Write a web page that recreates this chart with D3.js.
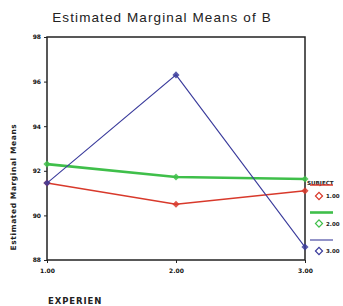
<!DOCTYPE html>
<html><head><meta charset="utf-8">
<script src="https://cdn.jsdelivr.net/npm/d3@7"></script>
<style>body{margin:0;background:#fff;overflow:hidden}svg{display:block}</style>
</head><body>
<svg id="c" width="343" height="306"></svg>
<script>
const categories = [1, 2, 3];
const xTickLabels = ["1.00", "2.00", "3.00"];
const yTicks = [88, 90, 92, 94, 96, 98];
const seriesNames = ["1.00", "2.00", "3.00"];
const series1 = [91.45, 90.5, 91.1];
const series2 = [92.3, 91.72, 91.63];
const series3 = [91.45, 96.3, 88.58];
const allSeries = [series1, series2, series3];
const colors = ["#d8392b", "#3fbf4a", "#3b3c9c"];
const widths = [1.5, 2.6, 1.1];

const svg = d3.select("#c");
const m = {l: 47, r: 305, t: 37, b: 260};
const x = d3.scaleLinear().domain([1, 3]).range([m.l, m.r]);
const y = d3.scaleLinear().domain([88, 98]).range([m.b, m.t]);

svg.append("text").attr("x", 162).attr("y", 22).attr("text-anchor", "middle")
  .attr("font-family", "Liberation Sans, Arial, sans-serif").attr("font-size", 13.5)
  .attr("letter-spacing", 1.1).attr("fill", "#222").text("Estimated Marginal Means of B");

// axes
const ya = svg.append("g").attr("transform", `translate(${m.l},0)`)
  .call(d3.axisLeft(y).tickValues(yTicks).tickSize(3).tickFormat(d3.format("d")));
const xa = svg.append("g").attr("transform", `translate(0,${m.b})`)
  .call(d3.axisBottom(x).tickValues(categories).tickSize(3).tickFormat((d,i)=>xTickLabels[i]));
[ya, xa].forEach(g => {
  g.select(".domain").remove();
  g.selectAll("line").attr("stroke", "#222");
  g.selectAll("text").attr("font-family", "DejaVu Sans, sans-serif").attr("font-weight", "bold")
    .attr("font-size", 6).attr("fill", "#111");
});
xa.selectAll("text").attr("dy", 7);

svg.append("rect").attr("x", m.l).attr("y", m.t).attr("width", m.r - m.l).attr("height", m.b - m.t)
  .attr("fill", "none").attr("stroke", "#222").attr("stroke-width", 1.5);

const line = d3.line().x((d,i)=>x(categories[i])).y(d=>y(d));
allSeries.forEach((s, k) => {
  svg.append("path").attr("d", line(s)).attr("fill", "none")
    .attr("stroke", colors[k]).attr("stroke-width", widths[k]);
  svg.selectAll(null).data(s).enter().append("path")
    .attr("transform", (d,i)=>`translate(${x(categories[i])},${y(d)}) rotate(45)`)
    .attr("d", "M-2.5,-2.5h5v5h-5z").attr("fill", colors[k]).attr("opacity", 0.85);
});

// y axis title
svg.append("text").attr("transform", "translate(16,187) rotate(-90)").attr("text-anchor", "middle")
  .attr("font-family", "DejaVu Sans, sans-serif").attr("font-weight", "bold").attr("font-size", 7.5)
  .attr("letter-spacing", 0.6).attr("fill", "#222").text("Estimated Marginal Means");

svg.append("text").attr("x", 48).attr("y", 304)
  .attr("font-family", "DejaVu Sans, sans-serif").attr("font-weight", "bold").attr("font-size", 8.5)
  .attr("letter-spacing", 0.9).attr("fill", "#222").text("EXPERIEN");

// legend
svg.append("text").attr("x", 307).attr("y", 185)
  .attr("font-family", "DejaVu Sans, sans-serif").attr("font-weight", "bold").attr("font-size", 5.6)
  .attr("fill", "#222").text("SUBJECT");
seriesNames.forEach((n, k) => {
  const ly = 185 + k * 27.5;
  svg.append("line").attr("x1", 310).attr("x2", 333).attr("y1", ly).attr("y2", ly)
    .attr("stroke", colors[k]).attr("stroke-width", widths[k]);
  svg.append("path").attr("transform", `translate(319,${ly + 11}) rotate(45)`)
    .attr("d", "M-2.5,-2.5h5v5h-5z").attr("fill", "none").attr("stroke", colors[k]).attr("stroke-width", 1.2);
  svg.append("text").attr("x", 326).attr("y", ly + 13)
    .attr("font-family", "DejaVu Sans, sans-serif").attr("font-weight", "bold").attr("font-size", 5.5)
    .attr("fill", "#222").text(n);
});
</script>
</body></html>
